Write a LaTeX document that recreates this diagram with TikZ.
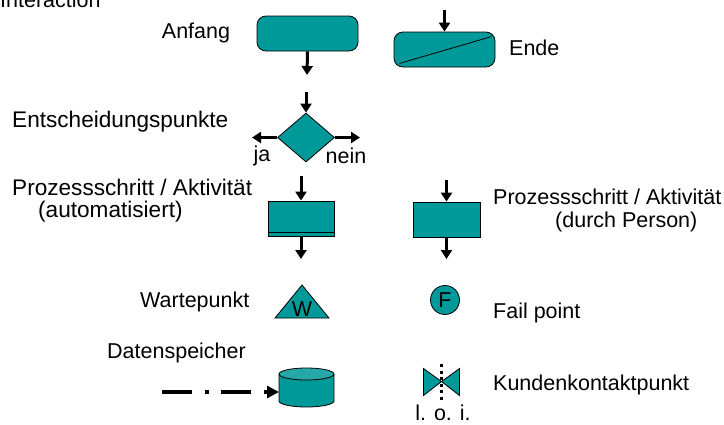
\documentclass[tikz,border=0pt]{standalone}
\usepackage{fontspec}
\setmainfont{Liberation Sans}
\usetikzlibrary{arrows.meta,shapes.geometric,calc}
\definecolor{symbolteal}{RGB}{0,153,153}
\tikzset{
  symbol/.style={draw=black, fill=symbolteal, line width=0.8pt},
  flow/.style={line width=3pt, -{Triangle[width=11pt,length=9pt]}},
  label/.style={font=\fontsize{21.5}{25}\selectfont, inner sep=0pt},
  biglabel/.style={font=\fontsize{22.6}{25}\selectfont, inner sep=0pt}
}
\begin{document}
\begin{tikzpicture}[x=1pt, y=-1pt]
  \useasboundingbox (0,0) rectangle (724,424);
  \node[label, anchor=base west] (titel) at (0,7) {Interaction};

  % Anfang / Ende
  \node[symbol, rounded corners=9pt, minimum width=101pt, minimum height=35pt] (anfang) at (307.5,33.5) {};
  \node[label] at (196,33) {Anfang};
  \coordinate (anfangaus) at (307,75);
  \draw[flow] (anfang.south) -- (anfangaus);

  \node[symbol, rounded corners=9pt, minimum width=101pt, minimum height=35pt] (ende) at (444.5,49.5) {};
  \draw[line width=0.8pt] ($(ende.south west)+(6,-4)$) -- ($(ende.north east)+(-4,5)$);
  \coordinate (endeein) at (444.5,10);
  \draw[flow] (endeein) -- (ende.north);
  \node[label, anchor=west] at (509,48) {Ende};

  % Entscheidung
  \node[symbol, diamond, aspect=1.16, inner sep=0pt, minimum width=57pt, minimum height=49pt] (entscheidung) at (306,137.5) {};
  \coordinate (entein) at (306,92);
  \coordinate (ja) at (252,137.5);
  \coordinate (nein) at (360,137.5);
  \draw[flow] (entein) -- (entscheidung.north);
  \draw[flow] (entscheidung.west) -- (ja);
  \draw[flow] (entscheidung.east) -- (nein);
  \node[label] at (262,156) {ja};
  \node[label] at (346,156) {nein};
  \node[biglabel, anchor=west] at (12,122) {Entscheidungspunkte};

  % Prozessschritte
  \node[symbol, minimum width=66pt, minimum height=35pt] (auto) at (301,218.5) {};
  \draw[line width=0.8pt] ($(auto.south west)+(0,-4)$) -- ($(auto.south east)+(0,-4)$);
  \coordinate (autoein) at (301,176);
  \coordinate (autoaus) at (301,259);
  \draw[flow] (autoein) -- (auto.north);
  \draw[flow] (auto.south) -- (autoaus);
  \node[biglabel, anchor=west] at (12,187) {Prozessschritt / Aktivität};
  \node[biglabel, anchor=west] at (38,212) {(automatisiert)};

  \node[symbol, minimum width=67pt, minimum height=35pt] (person) at (446.5,219.5) {};
  \coordinate (personein) at (446.5,180);
  \coordinate (personaus) at (446.5,259);
  \draw[flow] (personein) -- (person.north);
  \draw[flow] (person.south) -- (personaus);
  \node[label, anchor=west] at (493,197) {Prozessschritt / Aktivität};
  \node[label, anchor=west] at (555,222) {(durch Person)};

  % Wartepunkt und Fail point
  \draw[symbol] (275,318) -- (302,285) -- (329,318) -- cycle;
  \node[label] (warte) at (302,309) {W};
  \node[label, anchor=west] at (140,302) {Wartepunkt};

  \node[symbol, circle, inner sep=0pt, minimum size=29pt, label] (fail) at (445,300) {F};
  \node[label, anchor=west] at (493,313) {Fail point};

  % Datenspeicher als Zylinder
  \draw[symbol] (279,374) -- (279,401) arc[start angle=180, end angle=0, x radius=27.5, y radius=6] -- (334,374);
  \draw[symbol, fill=symbolteal!85!white] (306.5,374) ellipse[x radius=27.5, y radius=6];
  \coordinate (speicher) at (279,392);
  \coordinate (datenein) at (162,392);
  \draw[line width=4pt, dash pattern=on 30pt off 13pt on 4pt off 12pt,
        -{Triangle[width=12pt,length=12pt]}] (datenein) -- (speicher);
  \node[label, anchor=west] at (107,353) {Datenspeicher};

  % Kundenkontaktpunkt
  \coordinate (kontakt) at (441.5,381.5);
  \draw[symbol] (kontakt) -- ++(-18,-13) -- ++(0,27) -- cycle;
  \draw[symbol] (kontakt) -- ++(18,-13) -- ++(0,27) -- cycle;
  \coordinate (loioben) at (441.5,364);
  \coordinate (loiunten) at (441.5,401);
  \draw[line width=3pt, dash pattern=on 3pt off 3.5pt] (loioben) -- (loiunten);
  \node[label] (loi) at (443,413) {l. o. i.};
  \node[label, anchor=west] at (493,385) {Kundenkontaktpunkt};
\end{tikzpicture}
\end{document}
